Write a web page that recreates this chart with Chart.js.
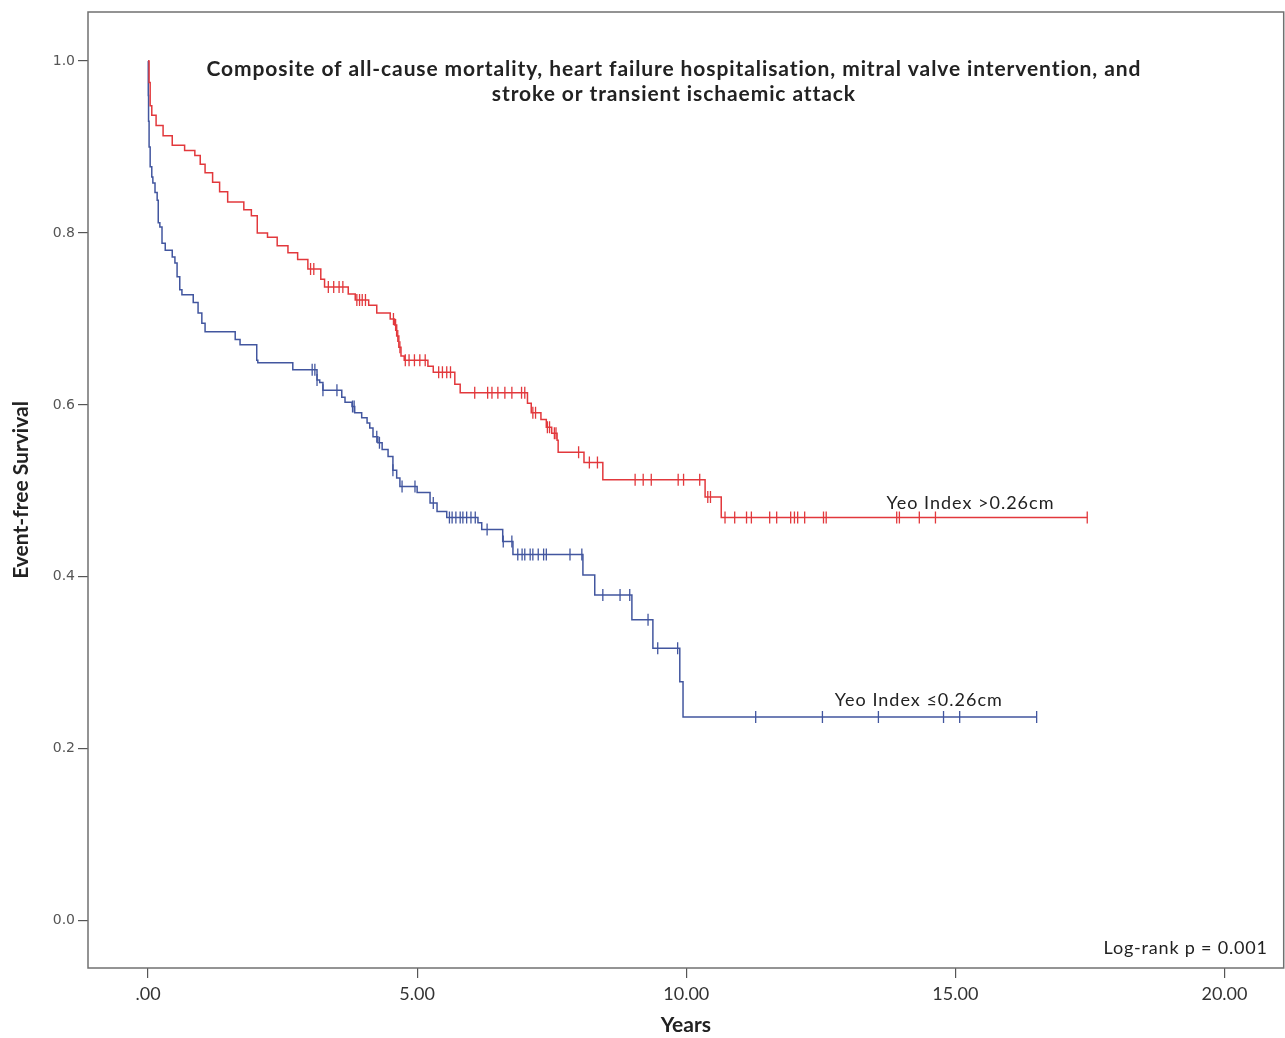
<!DOCTYPE html>
<html>
<head>
<meta charset="utf-8">
<title>Event-free survival by Yeo Index</title>
<script src="https://cdn.jsdelivr.net/npm/chart.js@4.4.1/dist/chart.umd.min.js"></script>
<style>
  html, body { margin: 0; padding: 0; background: #fff; overflow: hidden; }
  #wrap { width: 1291px; height: 1038px; position: relative; }
</style>
</head>
<body>
<div id="wrap"><canvas id="kmChart"></canvas></div>
<script>
// Kaplan-Meier steps (time in years, survival after the event)
const highTimes = [0, 0.02, 0.04, 0.07, 0.15, 0.28, 0.45, 0.68, 0.87, 0.97, 1.06, 1.2, 1.33, 1.48, 1.78, 1.92, 2.03, 2.22, 2.4, 2.6, 2.78, 2.97, 3.21, 3.28, 3.72, 3.85, 4.1, 4.25, 4.5, 4.58, 4.62, 4.66, 4.7, 4.76, 5.2, 5.3, 5.7, 5.8, 7.05, 7.12, 7.3, 7.4, 7.5, 7.6, 7.62, 8.1, 8.45, 10.35, 10.65, 17.45];
const highSurv = [1.0, 0.975, 0.948, 0.937, 0.925, 0.913, 0.902, 0.896, 0.890, 0.880, 0.870, 0.859, 0.848, 0.836, 0.827, 0.820, 0.800, 0.795, 0.785, 0.777, 0.769, 0.758, 0.746, 0.737, 0.729, 0.722, 0.716, 0.707, 0.700, 0.693, 0.680, 0.667, 0.657, 0.652, 0.645, 0.638, 0.624, 0.614, 0.602, 0.591, 0.583, 0.574, 0.567, 0.559, 0.545, 0.533, 0.513, 0.493, 0.469, 0.469];
const highCensored = [3.02, 3.08, 3.35, 3.45, 3.55, 3.62, 3.88, 3.93, 3.98, 4.04, 4.56, 4.6, 4.64, 4.68, 4.78, 4.85, 4.95, 5.05, 5.15, 5.4, 5.47, 5.55, 5.62, 6.07, 6.31, 6.39, 6.5, 6.63, 6.76, 6.94, 7.0, 7.15, 7.2, 7.42, 7.46, 7.55, 7.58, 8.0, 8.2, 8.35, 9.05, 9.2, 9.35, 9.85, 9.95, 10.25, 10.4, 10.45, 10.72, 10.9, 11.12, 11.21, 11.55, 11.68, 11.94, 12.01, 12.07, 12.2, 12.55, 12.6, 13.91, 13.96, 14.33, 14.63, 17.45];

const lowTimes = [0, 0.005, 0.01, 0.02, 0.04, 0.07, 0.09, 0.13, 0.17, 0.19, 0.22, 0.26, 0.32, 0.45, 0.5, 0.54, 0.59, 0.63, 0.84, 0.93, 1.0, 1.06, 1.62, 1.71, 2.02, 2.04, 2.69, 3.14, 3.19, 3.25, 3.6, 3.66, 3.79, 3.84, 3.97, 4.07, 4.12, 4.18, 4.27, 4.35, 4.46, 4.55, 4.62, 4.68, 5.0, 5.24, 5.37, 5.55, 6.13, 6.2, 6.59, 6.78, 8.08, 8.3, 8.99, 9.38, 9.88, 9.94, 16.51];
const lowSurv = [1.0, 0.96, 0.93, 0.90, 0.877, 0.865, 0.858, 0.847, 0.838, 0.812, 0.807, 0.788, 0.78, 0.772, 0.765, 0.749, 0.734, 0.728, 0.719, 0.707, 0.695, 0.685, 0.676, 0.67, 0.652, 0.649, 0.641, 0.629, 0.626, 0.617, 0.609, 0.603, 0.598, 0.591, 0.585, 0.579, 0.573, 0.563, 0.556, 0.548, 0.540, 0.524, 0.515, 0.505, 0.498, 0.486, 0.476, 0.469, 0.463, 0.455, 0.441, 0.426, 0.402, 0.379, 0.35, 0.317, 0.278, 0.237, 0.237];
const lowCensored = [3.05, 3.1, 3.14, 3.25, 3.51, 3.8, 3.83, 4.25, 4.3, 4.55, 4.72, 4.96, 5.3, 5.6, 5.65, 5.72, 5.8, 5.85, 5.92, 6.0, 6.08, 6.3, 6.6, 6.76, 6.87, 6.95, 7.0, 7.1, 7.15, 7.25, 7.35, 7.4, 7.84, 8.06, 8.45, 8.77, 8.95, 9.29, 9.47, 9.84, 11.29, 12.53, 13.57, 14.78, 15.08, 16.51];

const xTicks = [0, 5, 10, 15, 20];
const yTicks = [0, 0.2, 0.4, 0.6, 0.8, 1.0];
const groupLabels = ["Yeo Index >0.26cm", "Yeo Index \u22640.26cm"];
const titleLines = [
  "Composite of all-cause mortality, heart failure hospitalisation, mitral valve intervention, and",
  "stroke or transient ischaemic attack"
];
const pValueText = "Log-rank p = 0.001";

const RED = "#e2383c";
const BLUE = "#42569f";

function steps(times, surv) {
  return times.map((t, i) => ({ x: t, y: surv[i] }));
}

// survival level at time t (for placing censor ticks on the curve)
function survAt(times, surv, t) {
  let s = surv[0];
  for (let i = 0; i < times.length; i++) {
    if (times[i] <= t) s = surv[i];
  }
  return s;
}

function censorPoints(cens, times, surv) {
  return cens.map(t => ({ x: t, y: survAt(times, surv, t) }));
}

Chart.defaults.font.family = "Lato, 'Open Sans', sans-serif";

const annotations = {
  id: "annotations",
  afterDraw(chart) {
    const { ctx, chartArea, scales } = chart;
    const xs = scales.x, ys = scales.y;
    ctx.save();
    // frame round the plot
    ctx.strokeStyle = "#707070";
    ctx.lineWidth = 1.5;
    ctx.strokeRect(chartArea.left, chartArea.top, chartArea.right - chartArea.left, chartArea.bottom - chartArea.top);

    ctx.fillStyle = "#222";
    ctx.textBaseline = "middle";
    ctx.font = "bold 21px Lato";
    ctx.letterSpacing = "0.9px";
    ctx.textAlign = "center";
    const cx = xs.getPixelForValue(9.77);
    ctx.fillText(titleLines[0], cx, ys.getPixelForValue(1.0) + 8);
    ctx.fillText(titleLines[1], cx, ys.getPixelForValue(1.0) + 33);

    ctx.font = "18px Lato";
    ctx.letterSpacing = "1px";
    ctx.textAlign = "left";
    ctx.fillText(groupLabels[0], xs.getPixelForValue(13.72), ys.getPixelForValue(0.486));
    ctx.fillText(groupLabels[1], xs.getPixelForValue(12.76), ys.getPixelForValue(0.256));

    ctx.letterSpacing = "0.8px";
    ctx.textAlign = "right";
    ctx.fillText(pValueText, chartArea.right - 16, chartArea.bottom - 20);
    ctx.restore();
  }
};

const ctx = document.getElementById("kmChart").getContext("2d");
const kmChart = new Chart(ctx, {
  type: "line",
  data: {
    datasets: [
      {
        label: groupLabels[0],
        data: steps(highTimes, highSurv),
        borderColor: RED,
        borderWidth: 1.5,
        stepped: "before",
        pointRadius: 0,
        fill: false
      },
      {
        label: groupLabels[1],
        data: steps(lowTimes, lowSurv),
        borderColor: BLUE,
        borderWidth: 1.5,
        stepped: "before",
        pointRadius: 0,
        fill: false
      },
      {
        type: "scatter",
        label: "censored high",
        data: censorPoints(highCensored, highTimes, highSurv),
        pointStyle: "line",
        rotation: 90,
        pointRadius: 6,
        borderColor: RED,
        borderWidth: 1.3,
        showLine: false
      },
      {
        type: "scatter",
        label: "censored low",
        data: censorPoints(lowCensored, lowTimes, lowSurv),
        pointStyle: "line",
        rotation: 90,
        pointRadius: 6,
        borderColor: BLUE,
        borderWidth: 1.3,
        showLine: false
      }
    ]
  },
  options: {
    responsive: true,
    maintainAspectRatio: false,
    animation: false,
    layout: { padding: { top: 12, right: 0, left: 0, bottom: 0 } },
    plugins: {
      legend: { display: false },
      tooltip: { enabled: false }
    },
    scales: {
      x: {
        type: "linear",
        min: -1.115,
        max: 21.1,
        afterBuildTicks: (scale) => { scale.ticks = xTicks.map(v => ({ value: v })); },
        afterFit: (scale) => { scale.height = 70; },
        ticks: {
          padding: 5,
          color: "#333",
          font: { size: 18 },
          callback: (v) => (v === 0 ? ".00" : v.toFixed(2))
        },
        grid: { drawOnChartArea: false, tickLength: 10, color: "#555", lineWidth: 1.2 },
        border: { display: false },
        title: {
          display: true,
          text: "Years",
          color: "#222",
          font: { size: 21, weight: "bold" },
          padding: { top: 0, bottom: 0 }
        }
      },
      y: {
        type: "linear",
        min: -0.055,
        max: 1.057,
        afterBuildTicks: (scale) => { scale.ticks = yTicks.map(v => ({ value: v })); },
        afterFit: (scale) => { scale.width = 88; },
        ticks: {
          padding: 3,
          color: "#555",
          font: { family: "'DejaVu Sans'", size: 14 },
          callback: (v) => v.toFixed(1)
        },
        grid: { drawOnChartArea: false, tickLength: 10, color: "#555", lineWidth: 1.2 },
        border: { display: false },
        title: {
          display: true,
          text: "Event-free Survival",
          color: "#222",
          font: { size: 21, weight: "bold" },
          padding: { top: 9, bottom: 0 }
        }
      }
    }
  },
  plugins: [annotations]
});
</script>
</body>
</html>
